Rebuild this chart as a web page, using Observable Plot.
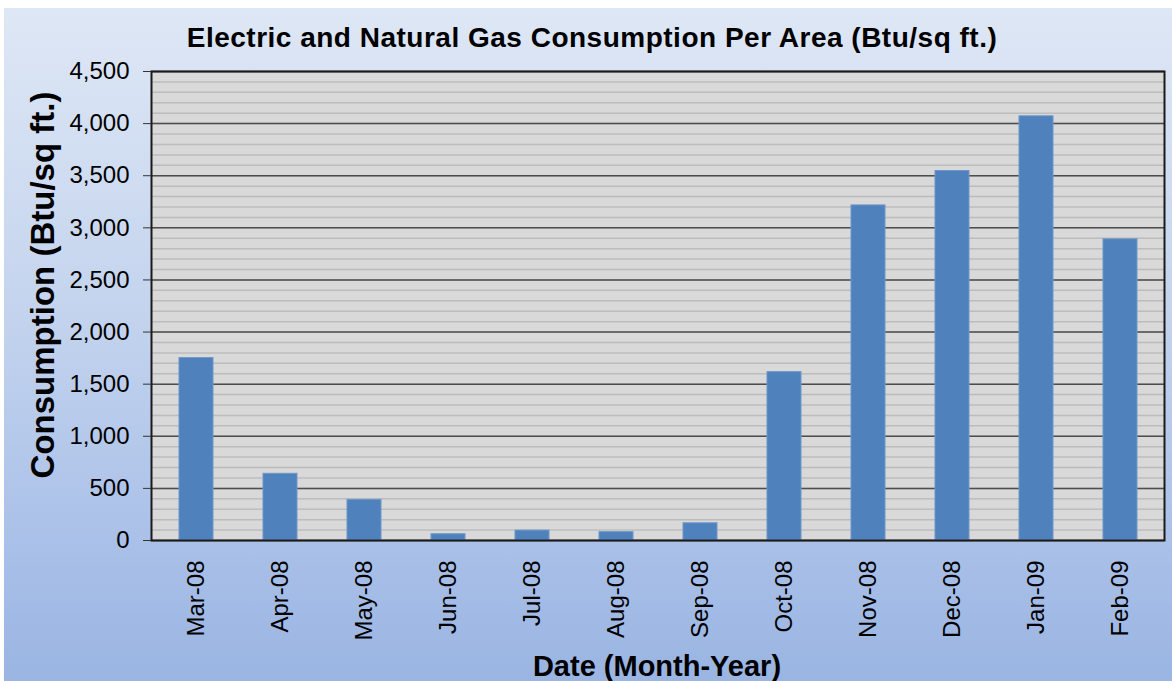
<!DOCTYPE html>
<html>
<head>
<meta charset="utf-8">
<script src="https://cdn.jsdelivr.net/npm/d3@7"></script>
<script src="https://cdn.jsdelivr.net/npm/@observablehq/plot@0.6"></script>
<style>
  html, body { margin: 0; padding: 0; background: #fff; }
  #wrap { position: relative; width: 1172px; height: 681px; background: #fff; overflow: hidden;
          font-family: "Liberation Sans", Arial, sans-serif; }
  #bg { position: absolute; left: 4px; top: 8px; width: 1168px; height: 673px;
        background: linear-gradient(to bottom, #dee7f5 0%, #c4d4ee 45%, #a9c0e8 80%, #9ab5e2 100%); }
  #chart { position: absolute; left: 0; top: 0; }
  .lbl { position: absolute; font-weight: bold; color: #000; white-space: nowrap; line-height: 1; }
  #title { left: 592px; top: 38px; font-size: 28px; letter-spacing: 0.5px; transform: translate(-50%, -50%); }
  #ytitle { left: 42px; top: 285px; font-size: 33px; transform: translate(-50%, -50%) rotate(-90deg); }
  #xtitle { left: 657px; top: 666px; font-size: 29px; transform: translate(-50%, -50%); }
</style>
</head>
<body>
<div id="wrap">
  <div id="bg"></div>
  <div id="chart"></div>
  <div class="lbl" id="title">Electric and Natural Gas Consumption Per Area (Btu/sq ft.)</div>
  <div class="lbl" id="ytitle">Consumption (Btu/sq ft.)</div>
  <div class="lbl" id="xtitle">Date (Month-Year)</div>
</div>
<script>
const months = ["Mar-08", "Apr-08", "May-08", "Jun-08", "Jul-08", "Aug-08", "Sep-08", "Oct-08", "Nov-08", "Dec-08", "Jan-09", "Feb-09"];
const consumption = [1750, 640, 390, 60, 95, 80, 165, 1615, 3215, 3545, 4070, 2890];
const yTicks = [0, 500, 1000, 1500, 2000, 2500, 3000, 3500, 4000, 4500];
const yMinorTicks = d3.range(0, 4501, 100);

const data = months.map((m, i) => ({ month: m, value: consumption[i] }));
const fmt = d3.format(",");

const chart = Plot.plot({
  width: 1172,
  height: 681,
  marginLeft: 151,
  marginRight: 8,
  marginTop: 71,
  marginBottom: 141,
  style: { background: "transparent", fontFamily: "'Liberation Sans', Arial, sans-serif", color: "#000", overflow: "visible" },
  x: { domain: months, paddingInner: 0.6, paddingOuter: 0.3, label: null },
  y: { domain: [0, 4500], label: null },
  marks: [
    Plot.frame({ fill: "#d9d9d9", stroke: null }),
    Plot.ruleY(yMinorTicks, { stroke: "#bcbcbc", strokeWidth: 1.5 }),
    Plot.ruleY(yTicks, { stroke: "#4d4d4d", strokeWidth: 1.5 }),
    Plot.barY(data, { x: "month", y: "value", fill: "#4f81bd", stroke: "#6e96c9", strokeWidth: 1 }),
    Plot.frame({ stroke: "#1a1a1a", strokeWidth: 2 }),
    Plot.axisY({ ticks: yTicks, tickFormat: d => fmt(d), tickSize: 8, tickPadding: 14, fontSize: 24, label: null, stroke: "#333" }),
    Plot.axisX({ tickRotate: -90, tickSize: 0, tickPadding: 20, fontSize: 24, label: null })
  ]
});
document.getElementById("chart").appendChild(chart);
</script>
</body>
</html>
